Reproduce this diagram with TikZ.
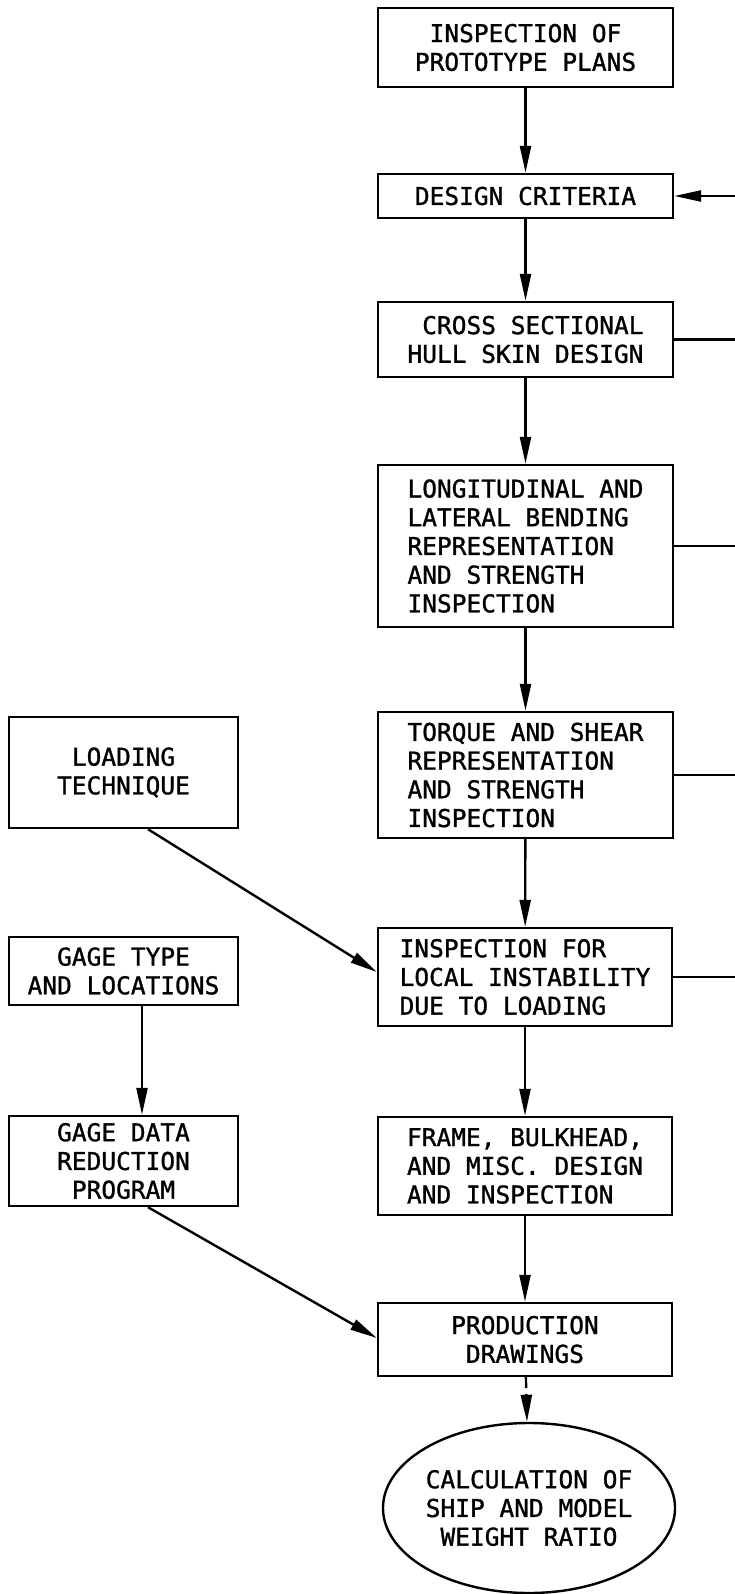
\documentclass[tikz,border=0pt]{standalone}
\usepackage{fontspec}
\newfontfamily\lettering[FakeBold=1.2]{DejaVu Sans Mono}
\usetikzlibrary{arrows.meta,shapes.geometric}
\begin{document}
\begin{tikzpicture}[x=1pt,y=-1pt,
  line width=2.4pt,
  every node/.style={font=\lettering\fontsize{24.5}{28.7}\selectfont},
  box/.style={draw,rectangle,inner sep=0pt,minimum width=295pt},
  lbox/.style={draw,rectangle,inner sep=0pt,minimum width=229pt},
  arr/.style={-{Triangle[length=27pt,width=11pt]}},
  fb/.style={-}
]
\useasboundingbox (0,0) rectangle (735,1594);
% main column
\node[box,minimum height=79pt,align=center] (b1) at (525.5,47.5) {INSPECTION OF\\PROTOTYPE PLANS};
\node[box,minimum height=44pt,align=center] (b2) at (525.5,196) {DESIGN CRITERIA};
\node[box,minimum height=75pt,align=right] (b3) at (525.5,339.5) {CROSS SECTIONAL\\HULL SKIN DESIGN};
\node[box,minimum height=162pt,align=left] (b4) at (525.5,546) {LONGITUDINAL AND\\LATERAL BENDING\\REPRESENTATION\\AND STRENGTH\\INSPECTION};
\node[box,minimum height=126pt,align=left] (b5) at (525.5,775) {TORQUE AND SHEAR\\REPRESENTATION\\AND STRENGTH\\INSPECTION};
\node[box,minimum height=98pt,minimum width=294pt,align=left] (b6) at (525,977) {INSPECTION FOR\\LOCAL INSTABILITY\\DUE TO LOADING};
\node[box,minimum height=98pt,minimum width=294pt,align=left] (b7) at (525,1166) {FRAME, BULKHEAD,\\AND MISC. DESIGN\\AND INSPECTION};
\node[box,minimum height=73pt,minimum width=294pt,align=center] (b8) at (525,1339.5) {PRODUCTION\\DRAWINGS};
\node[draw,ellipse,inner sep=0pt,minimum width=240pt,minimum height=170pt,align=center] (ell) at (529,1508) {CALCULATION OF\\SHIP AND MODEL\\WEIGHT RATIO};
% left column
\node[lbox,minimum height=111pt,align=center] (load) at (123.5,772.5) {LOADING\\TECHNIQUE};
\node[lbox,minimum height=68pt,align=center] (gtype) at (123.5,971) {GAGE TYPE\\AND LOCATIONS};
\node[lbox,minimum height=90pt,align=center] (gdata) at (123.5,1161) {GAGE DATA\\REDUCTION\\PROGRAM};
% right edge coordinates
\coordinate (r2) at (735,196);
\coordinate (r3) at (735,339.5);
\coordinate (r4) at (735,546);
\coordinate (r5) at (735,775);
\coordinate (r6) at (735,977);
% main flow
\draw[arr] (b1) -- (b2);
\draw[arr] (b2) -- (b3);
\draw[arr] (b3) -- (b4);
\draw[arr] (b4) -- (b5);
\draw[arr] (b5) -- (b6);
\draw[arr] (b6) -- (b7);
\draw[arr] (b7) -- (b8);
\draw[arr,dash pattern=on 11pt off 6pt] (b8) -- (ell);
% feedback lines
\draw[arr] (r2) -- (b2.east);
\draw[fb] (b3.east) -- (r3);
\draw[fb] (b4.east) -- (r4);
\draw[fb] (b5.east) -- (r5);
\draw[fb] (b6.east) -- (r6);
% left flow
\draw[arr] ([xshift=24.5pt]load.south) -- ([yshift=5pt]b6.west);
\draw[arr] ([xshift=18.5pt]gtype.south) -- ([xshift=18.5pt]gdata.north);
\draw[arr] ([xshift=24.5pt]gdata.south) -- ([yshift=1.5pt]b8.west);
\end{tikzpicture}
\end{document}
